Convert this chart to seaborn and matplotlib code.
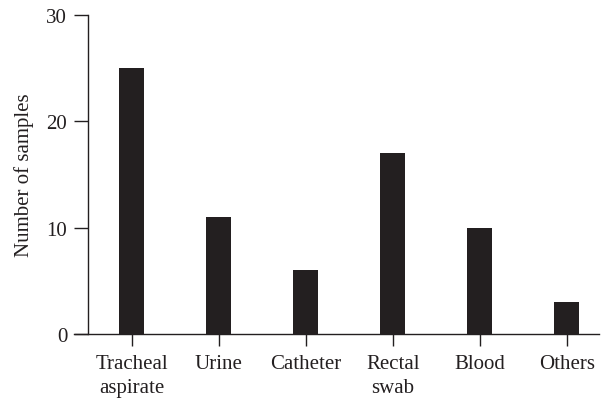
import matplotlib
matplotlib.use("Agg")
import matplotlib.pyplot as plt
import seaborn as sns
import pandas as pd

categories = ["Tracheal\naspirate", "Urine", "Catheter", "Rectal\nswab", "Blood", "Others"]
samples = [25, 11, 6, 17, 10, 3]
yticks = [0, 10, 20, 30]

sns.set_theme(style="ticks")
plt.rcParams["font.family"] = ["Liberation Serif", "DejaVu Serif"]

df = pd.DataFrame({"Sample": categories, "Count": samples})

fig = plt.figure(figsize=(6.01, 4.02), dpi=100)
ax = fig.add_axes([88/601, (402-335)/402, (599-88)/601, (335-15.7)/402])
sns.barplot(data=df, x="Sample", y="Count", color="#231f20", width=0.284,
            saturation=1, ax=ax)
for p in ax.patches:
    p.set_edgecolor("none")

ax.set_xlim(-0.502, 5.37)
ax.set_ylim(0, 30)
ax.set_yticks(yticks)
ax.set_xlabel("")
ax.set_ylabel("Number of samples", fontsize=15, color="#231f20")
ax.yaxis.set_label_coords(-0.106, 0.5)
for s in ["top", "right"]:
    ax.spines[s].set_visible(False)
for s in ["left", "bottom"]:
    ax.spines[s].set_color("#231f20")
    ax.spines[s].set_linewidth(1.0)
ax.tick_params(axis="both", colors="#231f20", labelsize=15, width=1.0)
ax.tick_params(axis="y", length=10, pad=5)
ax.tick_params(axis="x", length=8.6, pad=6)
for lbl in ax.get_xticklabels():
    lbl.set_linespacing(1.35)
ax.spines["bottom"].set_bounds(-0.502 - 14/87, 5.37)

fig.savefig("out.png", dpi=100)
